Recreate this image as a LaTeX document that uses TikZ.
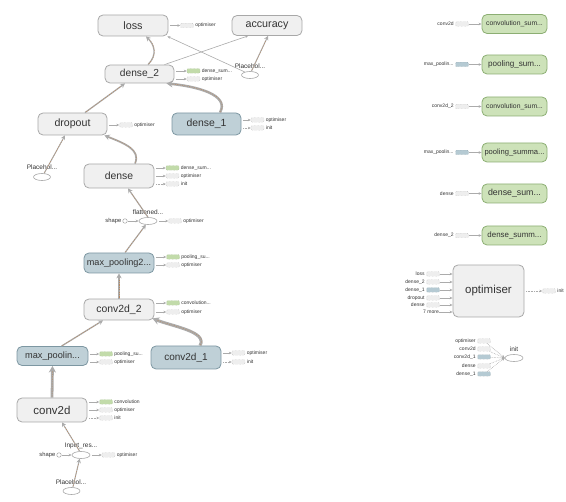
\documentclass[tikz,border=0pt]{standalone}
\usepackage{fontspec}
\setmainfont{Liberation Sans}
\usepackage{tikz}
\usetikzlibrary{positioning, shapes.geometric, arrows.meta, calc}
\definecolor{opfill}{HTML}{F0F0F0}
\definecolor{opdraw}{HTML}{A8A8A8}
\definecolor{layerfill}{HTML}{BFD0D7}
\definecolor{layerdraw}{HTML}{7D97A2}
\definecolor{sumfill}{HTML}{CDE2B9}
\definecolor{sumdraw}{HTML}{8CAE73}
\definecolor{chipgray}{HTML}{EEEEEE}
\definecolor{chipdraw}{HTML}{B4B4B4}
\definecolor{chipgreen}{HTML}{C2DBAA}
\definecolor{chipblue}{HTML}{B5CAD3}
\definecolor{edgegray}{HTML}{ABABAB}
\definecolor{tensorbrown}{HTML}{B98A62}
\definecolor{textgray}{HTML}{333333}

\newcommand{\fsz}[1]{\fontsize{#1}{#1}\selectfont}
% small output tensor next to a node
\newcommand{\outchip}[5][chip]{%
  \node[#1] (#3) at (#4) {};
  \node[smalltext, anchor=west] at ([xshift=1.5pt]#3.east) {#5};
  \draw[flow, shorten <=1.5pt] (#2.east |- #3) -- (#3);}
\newcommand{\initchip}[3]{%
  \node[chip] (#2) at (#3) {};
  \node[smalltext, anchor=west] at ([xshift=1.5pt]#2.east) {init};
  \draw[ctrl, shorten <=1.5pt] (#1.east |- #2) -- (#2);}
% small input tensor in front of a node
\newcommand{\inchip}[5][chip]{%
  \node[#1] (#3) at (#4) {};
  \node[smalltext, anchor=east] at ([xshift=-1.5pt]#3.west) {#5};
  \draw[flow] (#3) -- (#2.west |- #3);}

\begin{document}
\begin{tikzpicture}[x=1pt, y=-1pt,
  opbox/.style={draw=opdraw, fill=opfill, rounded corners=5pt, line width=0.8pt, inner sep=0pt, text=textgray},
  layerbox/.style={opbox, draw=layerdraw, fill=layerfill},
  sumbox/.style={opbox, draw=sumdraw, fill=sumfill, minimum width=65pt, minimum height=19pt},
  const/.style={ellipse, draw=opdraw, fill=white, line width=0.6pt, minimum width=17pt, minimum height=7pt, inner sep=0pt},
  port/.style={circle, draw=opdraw, fill=white, line width=0.5pt, minimum size=4.5pt, inner sep=0pt},
  smalltext/.style={font=\fsz{5}, inner sep=0pt, text=black!80},
  constlabel/.style={font=\fsz{6.5}, inner sep=0pt, text=textgray},
  chip/.style={draw=chipdraw, densely dotted, fill=chipgray, line width=0.4pt, minimum width=13pt, minimum height=4.5pt, inner sep=0pt, rounded corners=1pt},
  greenchip/.style={chip, fill=chipgreen, draw=chipgreen!80!black},
  bluechip/.style={chip, fill=chipblue, draw=chipblue!80!black},
  flow/.style={draw=edgegray, line width=0.6pt, -{Stealth[length=3pt, width=2.6pt]}},
  ctrl/.style={flow, densely dotted},
  tensor/.style={draw=edgegray, line width=#1, -{Stealth[length=3pt 1.3, width=3pt 1.5]},
    postaction={draw=tensorbrown, line width=0.45pt, dash pattern=on 1.2pt off 1.2pt, -, shorten >=5pt, shorten <=1pt}},
  tensor/.default=1.2pt]
\useasboundingbox (0,0) rectangle (566,502);

% main graph
\node[opbox, minimum width=70pt, minimum height=21pt, font=\fsz{10.8}] (loss) at (133,25.5) {loss};
\node[opbox, minimum width=70pt, minimum height=20pt, font=\fsz{10.7}] (accuracy) at (267,25.5) {accuracy};
\node[opbox, minimum width=69pt, minimum height=18pt, font=\fsz{10.2}] (dense2) at (139.5,74) {dense\_2};
\node[const] (plhacc) at (250,75) {};
\node[constlabel] (plhacclbl) at (250,66) {Placehol...};
\node[opbox, minimum width=69pt, minimum height=22pt, font=\fsz{10.6}] (dropout) at (72.5,124) {dropout};
\node[layerbox, minimum width=69pt, minimum height=22pt, font=\fsz{10.4}] (dense1) at (206.5,124) {dense\_1};
\node[const] (plhdrop) at (42,177) {};
\node[constlabel] (plhdroplbl) at (42,167) {Placehol...};
\node[opbox, minimum width=70pt, minimum height=24pt, font=\fsz{10.4}] (dense) at (119,176) {dense};
\node[const, minimum width=18pt] (flat) at (148,221) {};
\node[constlabel] (flatlbl) at (148,212) {flattened...};
\node[port] (flatshape) at (125,221) {};
\node[smalltext, font=\fsz{5.8}, anchor=east] (flatshapelbl) at (121.5,221) {shape};
\node[layerbox, minimum width=70pt, minimum height=20pt, font=\fsz{9.1}] (maxpool2) at (119,263) {max\_pooling2...};
\node[opbox, minimum width=70pt, minimum height=21pt, font=\fsz{10.4}] (conv2d2) at (119,309.5) {conv2d\_2};
\node[layerbox, minimum width=71pt, minimum height=19pt, font=\fsz{9.2}] (maxpool1) at (52.5,356) {max\_poolin...};
\node[layerbox, minimum width=70pt, minimum height=23pt, font=\fsz{10}] (conv2d1) at (186,357.5) {conv2d\_1};
\node[opbox, minimum width=70pt, minimum height=24pt, font=\fsz{11.5}] (conv2d) at (52,410) {conv2d};
\node[const, minimum width=18pt] (inres) at (81,455) {};
\node[constlabel] (inreslbl) at (81,446) {Input\_res...};
\node[port] (inshape) at (59,455) {};
\node[smalltext, font=\fsz{5.8}, anchor=east] (inshapelbl) at (55.5,455) {shape};
\node[const] (plhin) at (71.5,491) {};
\node[constlabel] (plhinlbl) at (71,482) {Placehol...};

% data flow
\draw[tensor=1.3pt] ([xshift=8.5pt]dense2.north) .. controls +(10,-10) and +(8,8) .. ([xshift=13pt]loss.south);
\draw[flow] ([xshift=25pt]dense2.north) -- ([xshift=-19pt]accuracy.south);
\draw[flow] (plhacc.150) -- ([xshift=-1pt]loss.south east);
\draw[tensor=1pt] (plhacc.70) -- ([xshift=1pt]accuracy.south);
\draw[tensor=1.3pt] ([xshift=12.5pt]dropout.north) -- ([xshift=-14.5pt]dense2.south);
\draw[tensor=2.5pt] ([xshift=13.5pt]dense1.north) .. controls +(10,-18) and +(30,3) .. ([xshift=-8pt]dense2.south east);
\draw[tensor=1pt] (plhdrop.60) -- ([xshift=-7.5pt]dropout.south);
\draw[tensor=1.8pt] ([xshift=16pt]dense.north) .. controls +(6,-14) and +(20,8) .. ([xshift=-3pt]dropout.south east);
\draw[tensor] (flat.north) -- ([xshift=9pt]dense.south);
\draw[tensor] ([xshift=6pt]maxpool2.north) -- (flat.240);
\draw[tensor=1.5pt] (conv2d2.north) -- (maxpool2.south);
\draw[tensor=1.3pt] ([xshift=9pt]maxpool1.north) -- ([xshift=-16pt]conv2d2.south);
\draw[tensor=3pt] ([xshift=14pt]conv2d1.north) .. controls +(8,-14) and +(20,8) .. ([xshift=-2pt,yshift=2pt]conv2d2.south east);
\draw[tensor=2.8pt] (conv2d.north) -- (maxpool1.south);
\draw[tensor=1pt] (inres.110) -- ([xshift=10pt]conv2d.south);
\draw[tensor=1pt] (plhin.70) -- (inres.250);
\draw[flow] (inshape) -- (inres);
\draw[flow] (flatshape) -- (flat);

% side tensors
\outchip{loss}{losschip}{187,25.5}{optimiser}
\outchip[greenchip]{dense2}{dense2sum}{193.5,71}{dense\_sum...}
\outchip{dense2}{dense2opt}{193.5,79}{optimiser}
\outchip{dropout}{dropoutopt}{126,125}{optimiser}
\outchip{dense1}{dense1opt}{257.5,120}{optimiser}
\initchip{dense1}{dense1init}{257.5,128}
\outchip[greenchip]{dense}{densesum}{172.5,168}{dense\_sum...}
\outchip{dense}{denseopt}{172.5,176}{optimiser}
\initchip{dense}{denseinit}{172.5,184}
\outchip{flat}{flatopt}{175,221}{optimiser}
\outchip[greenchip]{maxpool2}{maxpool2sum}{173,257}{pooling\_su...}
\outchip{maxpool2}{maxpool2opt}{173,265}{optimiser}
\outchip[greenchip]{conv2d2}{conv2d2sum}{173,303}{convolution...}
\outchip{conv2d2}{conv2d2opt}{173,312}{optimiser}
\outchip[greenchip]{maxpool1}{maxpool1sum}{106,354}{pooling\_su...}
\outchip{maxpool1}{maxpool1opt}{106,362}{optimiser}
\outchip{conv2d1}{conv2d1opt}{238.5,353}{optimiser}
\initchip{conv2d1}{conv2d1init}{238.5,362}
\outchip[greenchip]{conv2d}{conv2dsum}{106,402}{convolution}
\outchip{conv2d}{conv2dopt}{106,410}{optimiser}
\initchip{conv2d}{conv2dinit}{106,418}
\outchip{inres}{inresopt}{108.5,455}{optimiser}

% summaries
\node[sumbox, font=\fsz{6.8}] (convsum1) at (514.5,24) {convolution\_sum...};
\node[sumbox, font=\fsz{8.1}] (poolsum1) at (514.5,64.5) {pooling\_sum...};
\node[sumbox, font=\fsz{6.8}] (convsum2) at (514.5,106.5) {convolution\_sum...};
\node[sumbox, font=\fsz{7.6}] (poolsum2) at (514.5,152.5) {pooling\_summa...};
\node[sumbox, font=\fsz{8.8}] (densesum1) at (514.5,193.5) {dense\_sum...};
\node[sumbox, font=\fsz{7.9}] (densesum2) at (514.5,235.5) {dense\_summ...};
\inchip{convsum1}{convsum1in}{462,24}{conv2d}
\inchip[bluechip]{poolsum1}{poolsum1in}{462,64.5}{max\_poolin...}
\inchip{convsum2}{convsum2in}{462,106.5}{conv2d\_2}
\inchip[bluechip]{poolsum2}{poolsum2in}{462,152.5}{max\_poolin...}
\inchip{densesum1}{densesum1in}{462,193.5}{dense}
\inchip{densesum2}{densesum2in}{462,235.5}{dense\_2}

% optimiser
\node[opbox, minimum width=71pt, minimum height=52pt, font=\fsz{11.5}] (optimiser) at (488.5,291) {optimiser};
\inchip{optimiser}{optloss}{433,274}{loss}
\inchip{optimiser}{optdense2}{433,282}{dense\_2}
\inchip[bluechip]{optimiser}{optdense1}{433,290}{dense\_1}
\inchip{optimiser}{optdropout}{433,298}{dropout}
\inchip{optimiser}{optdense}{433,305}{dense}
\node[smalltext, anchor=east] (optmore) at (439,312) {7 more};
\draw[flow] (optmore) -- (optimiser.west |- optmore);
\initchip{optimiser}{optinit}{549,291}

% init
\node[const, minimum width=18pt] (init) at (514,358) {};
\node[constlabel] (initlbl) at (514,349) {init};
\foreach \src/\txt/\yy/\fc in {iopt/optimiser/341/chipgray, iconv/conv2d/349/chipgray, iconv1/conv2d\_1/357/chipblue, idense/dense/366/chipgray, idense1/dense\_1/374/chipblue}{
  \node[chip, fill=\fc] (\src) at (484,\yy) {};
  \node[smalltext, anchor=east] at ([xshift=-1.5pt]\src.west) {\txt};
  \draw[ctrl] (\src) -- (init.west);
}
\end{tikzpicture}
\end{document}
